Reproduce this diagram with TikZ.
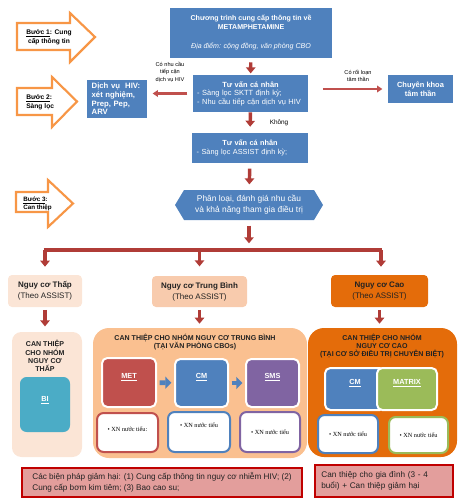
\documentclass[tikz,border=0pt]{standalone}
\usepackage{fontspec}
\setmainfont{Liberation Sans}
\newfontfamily\xnfont{Liberation Serif}
\usetikzlibrary{arrows.meta}
\definecolor{cblue}{HTML}{4F81BD}
\definecolor{corange}{HTML}{F79646}
\definecolor{cred}{HTML}{C0504D}
\definecolor{cdred}{HTML}{B03C37}
\definecolor{cpeach}{HTML}{FBE5D6}
\definecolor{cmidbox}{HTML}{F8CBAD}
\definecolor{cmidcont}{HTML}{FAC090}
\definecolor{chigh}{HTML}{E46C0A}
\definecolor{cteal}{HTML}{4BACC6}
\definecolor{cpurple}{HTML}{8064A2}
\definecolor{cgreen}{HTML}{9BBB59}
\definecolor{cpink}{HTML}{E39E9C}
\definecolor{cborder}{HTML}{C00000}
\definecolor{ctext}{HTML}{222222}
\newcommand{\fsz}[2]{\fontsize{#1}{#2}\selectfont}
\begin{document}
\begin{tikzpicture}[x=0.75pt,y=-0.75pt,
  bluebox/.style={fill=cblue, text=white, inner sep=0pt},
  darr/.style={draw=cdred, line width=2.6pt, -{Triangle[width=7pt,length=4.5pt]}},
  harr/.style={draw=cred, line width=1.6pt, -{Triangle[width=5pt,length=4pt]}},
  barline/.style={draw=cdred, line width=3.2pt},
  stepout/.style={draw=corange, line width=1.6pt, fill=white, line join=miter},
  steptext/.style={font=\fsz{5}{6.75}\bfseries, text=black, align=left, inner sep=0pt},
  smlbl/.style={font=\fsz{4.2}{5.6}, align=center, inner sep=0pt, text=black},
  riskbox/.style={rounded corners=3pt, inner sep=0pt, align=center, font=\fsz{6}{8.25}, text=ctext},
  cont/.style={inner sep=0pt},
  ctitle/.style={font=\fsz{5.3}{6.1}\bfseries, align=center, text=ctext, inner sep=0pt},
  innerbox/.style={draw=white, line width=1.5pt, rounded corners=4pt, inner sep=0pt},
  ilbl/.style={font=\fsz{5.5}{6}\bfseries, text=white, inner sep=0pt},
  xnbox/.style={fill=white, line width=1.5pt, rounded corners=5pt, inner sep=0pt},
  xntext/.style={font=\xnfont\fsz{4.7}{5}, text=black, inner sep=0pt},
  chev/.style={draw=cblue, line width=3.5pt, -{Triangle[width=9pt,length=4.5pt]}},
  hbox/.style={fill=cpink, draw=cborder, line width=1.5pt, inner sep=0pt, font=\fsz{6.15}{8.25}, text=ctext, align=left}
]
\useasboundingbox (0,0) rectangle (470,502);

% step arrows
\draw[stepout] (17,23) -- (70,23) -- (70,13) -- (95,37) -- (70,62) -- (70,50) -- (17,50) -- cycle;
\node[steptext, align=center] (s1) at (49,37.5) {\underline{Bước 1}: Cung\\cấp thông tin};
\draw[stepout] (17,88) -- (52,88) -- (52,77) -- (77,101.5) -- (52,127) -- (52,115) -- (17,115) -- cycle;
\node[steptext, anchor=west] (s2) at (26,102) {\underline{Bước 2}:\\Sàng lọc};
\draw[stepout] (16,192) -- (48,192) -- (48,180) -- (73,203.5) -- (48,227) -- (48,212) -- (16,212) -- cycle;
\node[steptext, font=\fsz{4.7}{6.2}\bfseries, anchor=west] (s3) at (23,204) {\underline{Bước 3}:\\Can thiệp};

% blue boxes
\node[bluebox, minimum width=121.5pt, minimum height=37.5pt, align=center, font=\fsz{5.3}{6.75}] (info) at (251,33)
  {\textbf{Chương trình cung cấp thông tin về}\\\textbf{METAMPHETAMINE}\\[7.5pt]\textit{Địa điểm: cộng đồng, văn phòng CBO}};
\node[bluebox, minimum width=86.25pt, minimum height=27.75pt, text width=80pt, align=left, font=\fsz{5.6}{6.4}] (tv1) at (250.5,93.5)
  {\makebox[80pt]{\textbf{Tư vấn cá nhân}}\\- Sàng lọc SKTT định kỳ;\\- Nhu cầu tiếp cận dịch vụ HIV};
\node[bluebox, minimum width=45pt, minimum height=28.5pt, text width=38pt, align=left, font=\fsz{5.8}{6.5}\bfseries] (hiv) at (117,99)
  {Dịch vụ\ \ HIV:\\xét nghiệm,\\Prep, Pep,\\ARV};
\node[bluebox, minimum width=48.75pt, minimum height=21pt, align=center, font=\fsz{5.6}{6.75}\bfseries] (ck) at (420.5,89)
  {Chuyên khoa\\tâm thần};
\node[bluebox, minimum width=87pt, minimum height=22.5pt, text width=80pt, align=left, font=\fsz{5.5}{6.75}] (tv2) at (250,148)
  {\makebox[80pt]{\textbf{Tư vấn cá nhân}}\\- Sàng lọc ASSIST định kỳ;};
\fill[cblue] (175,205) -- (184,190) -- (314,190) -- (323,205) -- (314,220) -- (184,220) -- cycle;
\node[inner sep=0pt, minimum width=111pt, minimum height=22.5pt, text=white, align=center, font=\fsz{6.3}{8.25}] (hex) at (249,205)
  {Phân loại, đánh giá nhu cầu\\và khả năng tham gia điều trị};

% labels and connectors in the upper part
\node[smlbl] (l1) at (170,72) {Có nhu cầu\\tiếp cận\\dịch vụ HIV};
\node[smlbl] (l2) at (358,76) {Có rối loạn\\tâm thần};
\node[font=\fsz{4.8}{6}, inner sep=0pt] (l3) at (279,123) {Không};
\draw[darr, shorten <=3pt, shorten >=1pt] (info) -- (tv1);
\draw[darr, shorten >=4.5pt] (tv1) -- (tv2);
\draw[darr, shorten <=4pt, shorten >=4pt] (tv2) -- (hex);
\draw[harr, shorten <=4pt, shorten >=4pt] (tv1.west) -- (hiv.east |- tv1.west);
\draw[harr, shorten <=11pt, shorten >=4pt] (tv1.east |- ck.west) -- (ck.west);

% risk boxes
\node[riskbox, fill=cpeach, minimum width=55.5pt, minimum height=24pt] (rlow) at (45,291) {\textbf{Nguy cơ Thấp}\\(Theo ASSIST)};
\node[riskbox, fill=cmidbox, minimum width=71.25pt, minimum height=23.25pt] (rmid) at (199.5,291.5) {\textbf{Nguy cơ Trung Bình}\\(Theo ASSIST)};
\node[riskbox, fill=chigh, minimum width=72.75pt, minimum height=24pt] (rhigh) at (379.5,291) {\textbf{Nguy cơ Cao}\\(Theo ASSIST)};

% red bar and drops
\coordinate (bl) at (45,250);
\coordinate (bc) at (249,250);
\coordinate (bm) at (199.5,250);
\coordinate (br) at (381,250);
\draw[darr, shorten <=4pt, shorten >=5pt] (hex.south) -- (bc);
\draw[barline] ([xshift=-1.1pt]bl) -- ([xshift=1.1pt]br);
\draw[darr, shorten >=6pt] (bl) -- (bl |- rlow.north);
\draw[darr, shorten >=7pt] (bm) -- (bm |- rmid.north);
\draw[darr, shorten >=6pt] (br) -- (br |- rhigh.north);

% containers
\node[cont, fill=cpeach, minimum width=52.5pt, minimum height=93.75pt, rounded corners=7pt] (clow) at (47,394.5) {};
\node[cont, fill=cmidcont, minimum width=160.5pt, minimum height=97.5pt, rounded corners=12pt] (cmid) at (200,393) {};
\node[cont, fill=chigh, minimum width=111.75pt, minimum height=96.75pt, rounded corners=12pt] (chi) at (382.5,392.5) {};
\draw[darr, shorten <=2pt, shorten >=4pt] (rlow.south) -- (rlow.south |- clow.north);
\draw[darr, shorten <=2pt, shorten >=3pt] (rmid.south) -- (rmid.south |- cmid.north);
\draw[darr, shorten <=2pt, shorten >=3pt] (rhigh.south) -- (rhigh.south |- chi.north);

\node[ctitle] (tlow) at (45,356) {CAN THIỆP\\CHO NHÓM\\NGUY CƠ\\THẤP};
\node[ctitle] (tmid) at (195,342) {CAN THIỆP CHO NHÓM NGUY CƠ TRUNG BÌNH\\(TẠI VĂN PHÒNG CBOs)};
\node[ctitle] (thigh) at (382,346) {CAN THIỆP CHO NHÓM\\NGUY CƠ CAO\\(TẠI CƠ SỞ ĐIỀU TRỊ CHUYÊN BIỆT)};

% inner boxes
\node[inner sep=0pt, fill=cteal, rounded corners=5pt, minimum width=37.5pt, minimum height=41.25pt] (bi) at (45,404.5) {};
\node[ilbl] (bil) at ([yshift=3pt]bi.center) {\underline{BI}};
\node[innerbox, fill=cred, minimum width=40.5pt, minimum height=36.75pt] (met) at (129,382.5) {};
\node[ilbl] (metl) at ([yshift=4pt]met.center) {\underline{MET}};
\node[innerbox, fill=cblue, minimum width=39.75pt, minimum height=36pt] (cm) at (201.5,383) {};
\node[ilbl] (cml) at ([yshift=4.5pt]cm.center) {\underline{CM}};
\node[innerbox, fill=cpurple, minimum width=39.75pt, minimum height=36pt] (sms) at (272.5,383) {};
\node[ilbl] (smsl) at ([yshift=4.5pt]sms.center) {\underline{SMS}};
\draw[chev, shorten <=2pt, shorten >=2pt] (met) -- (cm);
\draw[chev, shorten <=2pt, shorten >=2pt] (cm) -- (sms);

\node[innerbox, fill=cblue, minimum width=45pt, minimum height=31.5pt] (cmh) at (355,389) {};
\node[innerbox, fill=cgreen, minimum width=45pt, minimum height=31.5pt] (mx) at (407,389) {};
\node[ilbl] (cmhl) at ([yshift=4.5pt]cmh.center) {\underline{CM}};
\node[ilbl] (mxl) at ([yshift=4.5pt]mx.center) {\underline{MATRIX}};

% urine test boxes
\node[xnbox, draw=cred, minimum width=45.75pt, minimum height=29.25pt] (metx) at (127.5,432.5) {};
\node[xntext] (metxt) at ([yshift=2.5pt]metx.center) {\textbullet\ XN nước tiểu:};
\node[xnbox, draw=cblue, minimum width=46.5pt, minimum height=30pt] (cmx) at (199,432) {};
\node[xntext] (cmxt) at ([yshift=5.25pt]cmx.center) {\textbullet\ XN nước tiểu};
\node[xnbox, draw=cpurple, minimum width=45pt, minimum height=30pt] (smsx) at (270,432) {};
\node[xntext] (smsxt) at ([yshift=-0.5pt]smsx.center) {\textbullet\ XN nước tiểu};
\node[xnbox, draw=cblue, minimum width=45pt, minimum height=28.5pt] (chx) at (348,434) {};
\node[xntext] (chxt) at (chx.center) {\textbullet\ XN nước tiểu};
\node[xnbox, draw=cgreen, minimum width=44.25pt, minimum height=27pt] (mxx) at (418.5,435) {};
\node[xntext] (mxxt) at (mxx.center) {\textbullet\ XN nước tiểu};

% bottom boxes
\node[hbox, minimum width=210pt, minimum height=21.75pt] (hl) at (162,482.5)
  {Các biện pháp giảm hại: (1) Cung cấp thông tin nguy cơ nhiễm HIV; (2)\\Cung cấp bơm kim tiêm; (3) Bao cao su;};
\node[hbox, minimum width=103.5pt, minimum height=24pt, text width=94pt] (hr) at (384,481)
  {Can thiệp cho gia đình (3 - 4\\buổi) + Can thiệp giảm hại};
\end{tikzpicture}
\end{document}
